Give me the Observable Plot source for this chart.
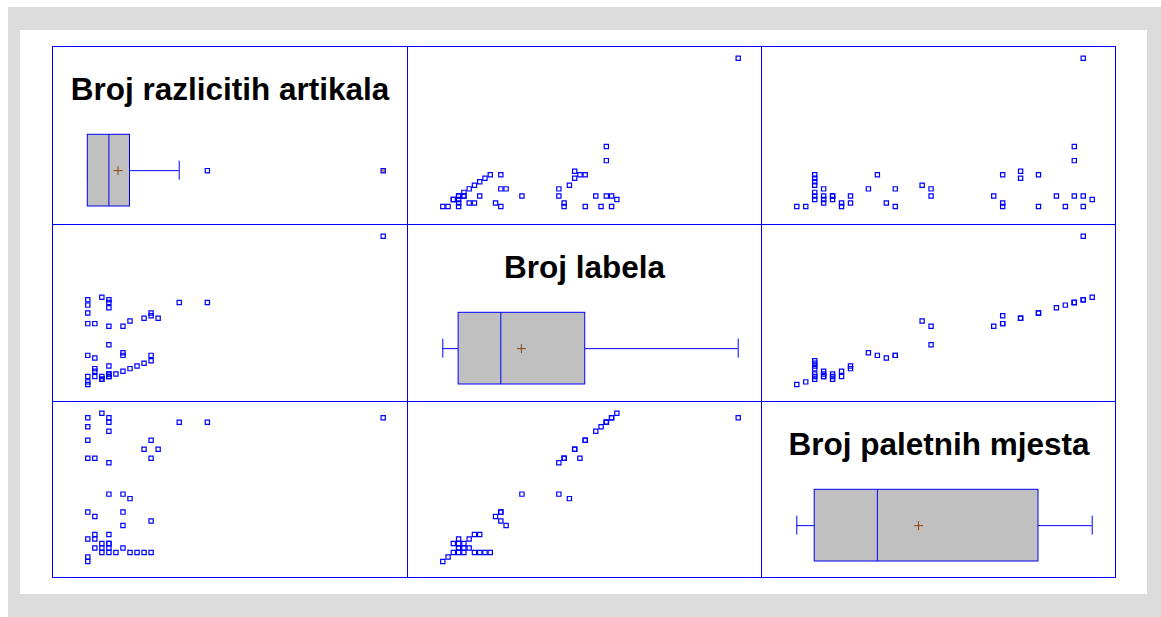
<!DOCTYPE html>
<html><head><meta charset="utf-8">
<script src="https://cdn.jsdelivr.net/npm/d3@7"></script>
<script src="https://cdn.jsdelivr.net/npm/@observablehq/plot@0.6"></script>
<style>
html,body{margin:0;padding:0;background:#fff;width:1161px;height:617px;overflow:hidden}
#outer{position:absolute;left:8px;top:7px;width:1153px;height:610px;background:#dcdcdc}
#inner{position:absolute;left:20px;top:30px;width:1127px;height:564px;background:#fff}
#matrix{position:absolute;left:52px;top:46px;width:1064px;height:532px}
.panel{position:absolute;overflow:visible}
.panel svg{display:block}
.line{position:absolute;background:#0000ff}
</style></head><body>
<div id="outer"></div><div id="inner"></div><div id="matrix"></div>
<script>
// Variables (scatterplot-matrix order)
const varNames = ["Broj razlicitih artikala", "Broj labela", "Broj paletnih mjesta"];

const artikli = [1,1,3,4,5,7,8,9,10,2,3,4,6,3,4,4,1,2,2,4,6,10,2,1,6,7,4,6,4,1,2,10,9,11,1,10,4,1,4,14,18,1,4,43,3];
const labele  = [1,2,3,4,5,7,8,9,10,4,4,5,6,3,4,5,4,6,7,8,13,12,11,12,12,25,16,23,23,24,24,27,26,26,28,28,30,31,32,32,32,33,33,57,34];
const paletna = [1,2,3,3,3,3,3,3,3,4,4,4,4,5,5,5,6,6,7,7,9,10,11,12,12,15,16,16,23,24,24,24,26,26,28,28,30,31,32,32,32,33,33,33,34];

// Box-plot statistics
const boxLow    = [1, 1, 1];
const boxQ1     = [1, 4, 3];
const boxMedian = [4, 12, 10];
const boxQ3     = [7, 28, 28];
const boxHigh   = [14, 57, 34];
const boxMean   = [5.3, 15.9, 14.6];
const outliers    = [[18], [], []];
const farOutliers = [[43], [], []];

const series = [artikli, labele, paletna];
const rows = artikli.map((_, i) => ({a: artikli[i], b: labele[i], c: paletna[i]}));
const keys = ["a", "b", "c"];

const BLUE = "#0000ff";
const colX = [0, 355, 709], colW = [355, 354, 355];
const rowY = [0, 178, 355], rowH = [178, 177, 177];
const xRange = [35.3, 330.7];
const yRange = [160, 11.8];

const matrix = document.getElementById("matrix");

function domainOf(k) { return d3.extent(series[k]); }

for (let r = 0; r < 3; r++) {
  for (let c = 0; c < 3; c++) {
    const w = colW[c], h = rowH[r];
    let chart;
    if (r === c) {
      const k = r;
      const stat = [{lo: boxLow[k], q1: boxQ1[k], med: boxMedian[k], q3: boxQ3[k], hi: boxHigh[k], mean: boxMean[k]}];
      chart = Plot.plot({
        width: w, height: h, margin: 0,
        x: {domain: domainOf(k), range: xRange, axis: null},
        y: {domain: [0, 1], range: [160, 88.3], axis: null},
        style: {background: "transparent", overflow: "visible"},
        marks: [
          Plot.ruleY(stat, {x1: "lo", x2: "q1", y: 0.5, stroke: BLUE, strokeWidth: 1}),
          Plot.ruleY(stat, {x1: "q3", x2: "hi", y: 0.5, stroke: BLUE, strokeWidth: 1}),
          Plot.ruleX(stat, {x: "lo", y1: 0.3675, y2: 0.6325, stroke: BLUE, strokeWidth: 1}),
          Plot.ruleX(stat, {x: "hi", y1: 0.3675, y2: 0.6325, stroke: BLUE, strokeWidth: 1}),
          Plot.rectX(stat, {x1: "q1", x2: "q3", y1: 0, y2: 1, fill: "#c0c0c0", stroke: BLUE, strokeWidth: 1}),
          Plot.ruleX(stat, {x: "med", y1: 0, y2: 1, stroke: BLUE, strokeWidth: 1}),
          Plot.dot(stat, {x: "mean", y: 0.5, symbol: "plus", r: 3, stroke: "#8b4513", strokeWidth: 1}),
          Plot.dot(outliers[k], {x: d => d, y: 0.5, symbol: "square", r: 2.4, stroke: BLUE, fill: "white", strokeWidth: 1.2}),
          Plot.dot(farOutliers[k], {x: d => d, y: 0.5, symbol: "square", r: 2.4, stroke: BLUE, fill: "#c8905a", strokeWidth: 1.2}),
          Plot.text([varNames[k]], {frameAnchor: "top", dy: 53.3, lineAnchor: "bottom", fontSize: 31.5, fontWeight: "bold", fontFamily: "Liberation Sans, Arial, sans-serif", fill: "black"})
        ]
      });
    } else {
      const kx = c, ky = r;
      chart = Plot.plot({
        width: w, height: h, margin: 0,
        x: {domain: domainOf(kx), range: xRange, axis: null},
        y: {domain: domainOf(ky), range: yRange, axis: null},
        style: {background: "transparent", overflow: "visible"},
        marks: [
          Plot.dot(rows, {x: keys[kx], y: keys[ky], symbol: "square", r: 2.4, stroke: BLUE, fill: "none", strokeWidth: 1.2})
        ]
      });
    }
    const div = document.createElement("div");
    div.className = "panel";
    div.style.left = colX[c] + "px";
    div.style.top = rowY[r] + "px";
    div.style.width = w + "px";
    div.style.height = h + "px";
    div.appendChild(chart);
    matrix.appendChild(div);
  }
}

// grid lines of the matrix
const vLines = [0, 355, 709, 1063];
const hLines = [0, 178, 355, 531];
for (const x of vLines) {
  const d = document.createElement("div");
  d.className = "line";
  Object.assign(d.style, {left: x + "px", top: "0px", width: "1px", height: "532px"});
  matrix.appendChild(d);
}
for (const y of hLines) {
  const d = document.createElement("div");
  d.className = "line";
  Object.assign(d.style, {left: "0px", top: y + "px", width: "1064px", height: "1px"});
  matrix.appendChild(d);
}
</script>
</body></html>
